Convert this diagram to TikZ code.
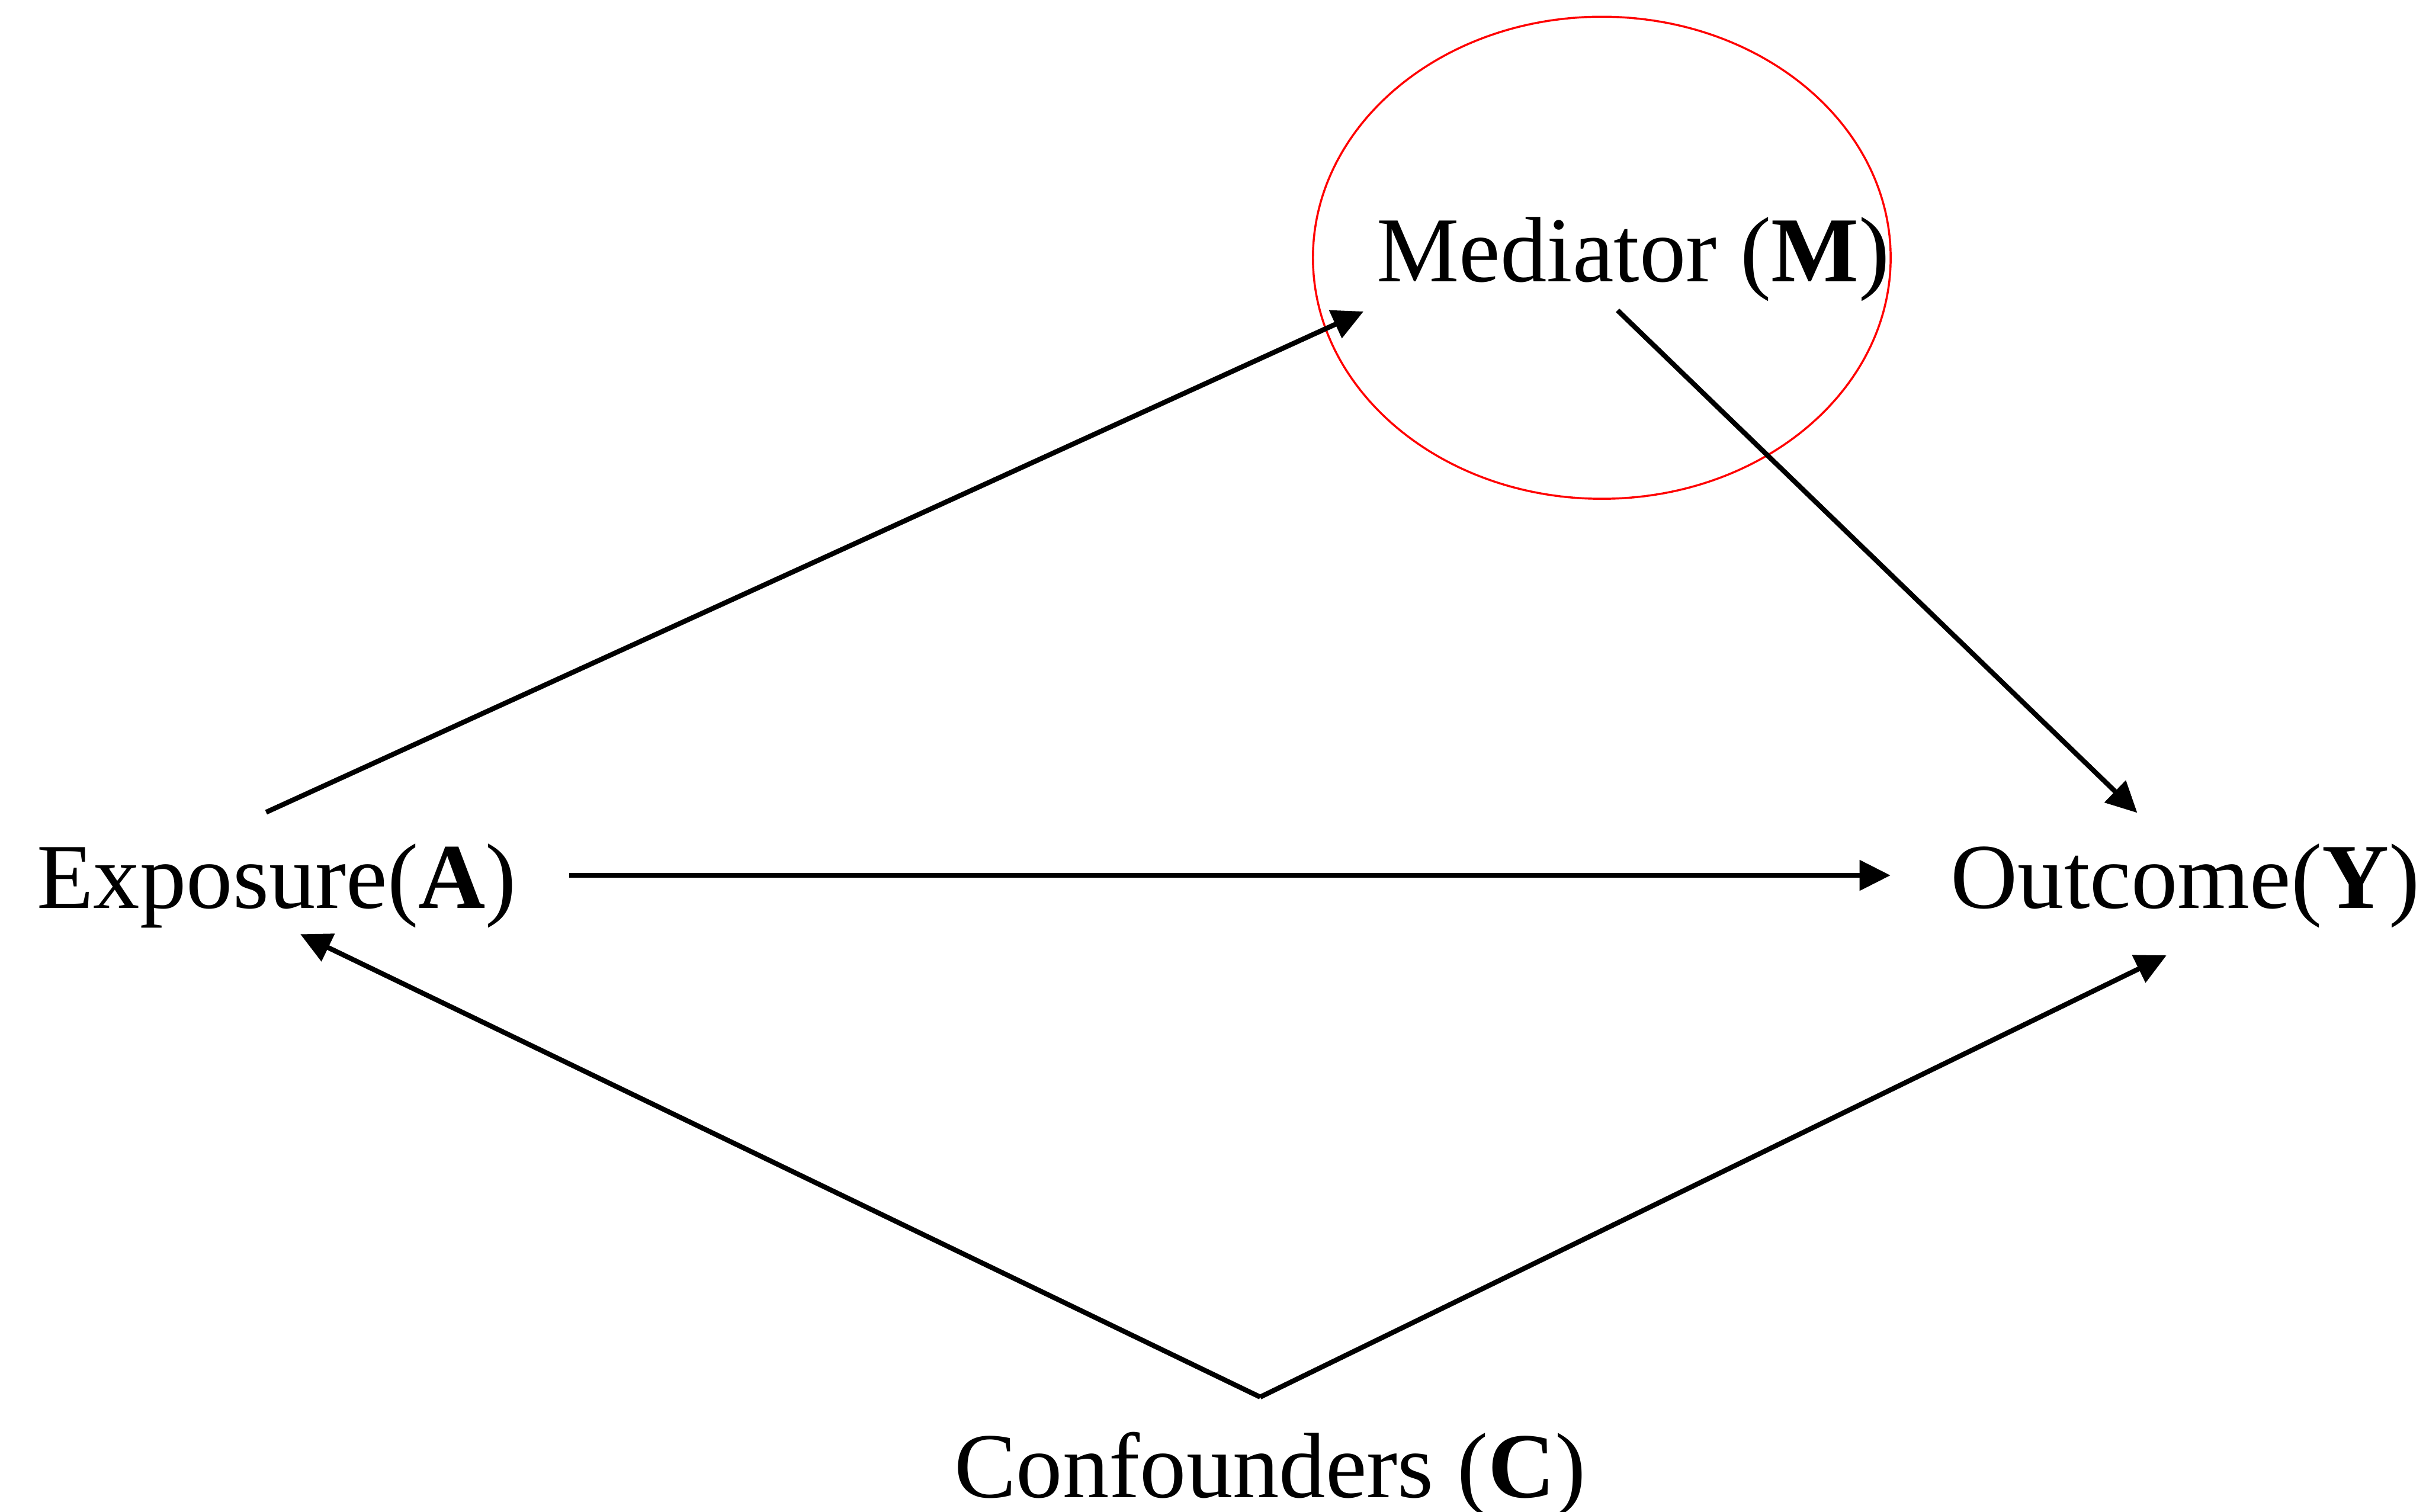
\documentclass[tikz,border=0pt]{standalone}
\usepackage{fontspec}
\setmainfont{Liberation Serif}
\usetikzlibrary{arrows.meta}
\begin{document}
\begin{tikzpicture}[x=0.25pt,y=-0.25pt,
  lab/.style={inner sep=0pt,anchor=base west,font=\fontsize{15}{18}\selectfont},
  conn/.style={line width=0.8pt,-{Triangle[length=5pt,width=4.8pt]}},
  plainconn/.style={line width=0.8pt}]
\useasboundingbox (0,0) rectangle (1568,977);
% ellipse around mediator
\draw[red,line width=0.33pt] (1035.3,166.6) ellipse [x radius=186.7, y radius=155.8];
% labels
\node[lab] (M) at (889,182) {Mediator (\textbf{M})};
\node[lab] (A) at (23,587) {Exposure(\textbf{A})};
\node[lab] (Y) at (1260,587) {Outcome(\textbf{Y})};
\node[lab] (C) at (616,968) {Confounders (\textbf{C})};
% connector endpoints
\coordinate (amS) at (172,525);
\coordinate (amT) at (881.3,201.3);
\coordinate (myS) at (1045.5,200.6);
\coordinate (myT) at (1381.4,525.4);
\coordinate (ayS) at (368,565.8);
\coordinate (ayT) at (1221.9,565.8);
\coordinate (capex) at (814.5,903);
\coordinate (caT) at (194.1,603.8);
\coordinate (cyT) at (1400.3,617.5);
% connectors
\draw[conn] (amS) -- (amT);
\draw[conn] (myS) -- (myT);
\draw[conn] (ayS) -- (ayT);
\draw[conn] (capex) -- (caT);
\draw[conn] (capex) -- (cyT);
\end{tikzpicture}
\end{document}
